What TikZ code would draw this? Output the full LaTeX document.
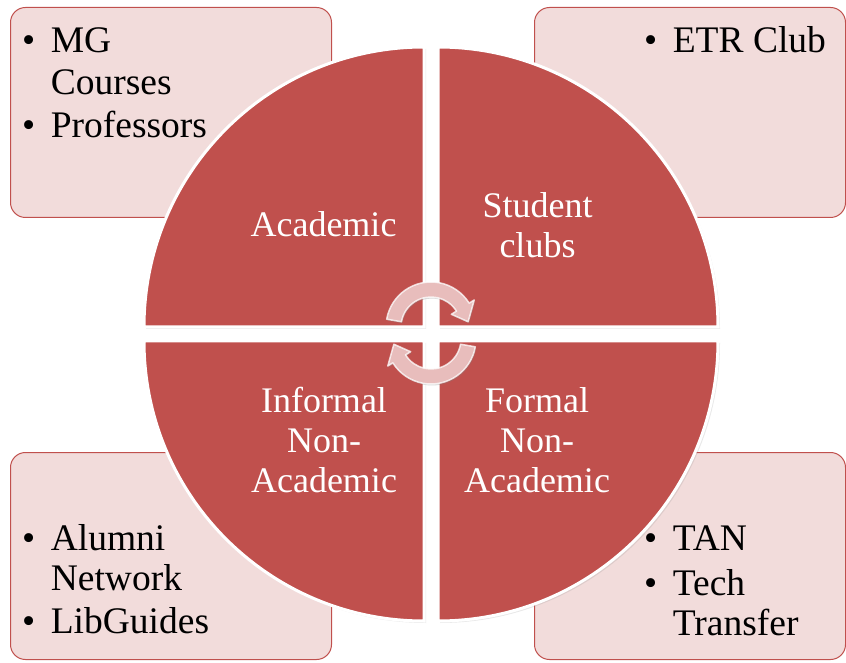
\documentclass[tikz,border=0pt]{standalone}
\usepackage{fontspec}
\setmainfont{Liberation Serif}
\usetikzlibrary{calc,shadows}
\definecolor{quadred}{HTML}{C0504D}
\definecolor{boxfill}{HTML}{F2DCDB}
\definecolor{arrowfill}{HTML}{E8BDBC}
\tikzset{
  infobox/.style={draw=quadred, line width=1pt, fill=boxfill, rounded corners=15pt,
    inner sep=0pt, anchor=south west},
  quadrant/.style={fill=quadred, draw=white, line width=3pt,
    drop shadow={shadow xshift=2pt, shadow yshift=-2pt, opacity=0.18}},
  quadlabel/.style={text=white, font=\fontsize{36}{40}\selectfont, inner sep=0pt, anchor=base},
  listtext/.style={text=black, font=\fontsize{37.5}{41}\selectfont, inner sep=0pt, anchor=base west},
  cyclearrow/.style={fill=arrowfill, draw=white, draw opacity=0.75, line width=1.5pt,
    line join=round, drop shadow={shadow xshift=1pt, shadow yshift=-1.5pt, opacity=0.3}},
}
\begin{document}
\begin{tikzpicture}[x=1pt,y=1pt]
\useasboundingbox (0,0) rectangle (846,662);

% corner boxes holding the lists
\node[infobox, minimum width=321pt, minimum height=210pt] (tlbox) at (10,444) {};
\node[infobox, minimum width=311pt, minimum height=210pt] (trbox) at (534,444) {};
\node[infobox, minimum width=321pt, minimum height=207pt] (blbox) at (10,2) {};
\node[infobox, minimum width=311pt, minimum height=207pt] (brbox) at (534,2) {};

% four quarter discs
\coordinate (qtl) at (424,335);
\coordinate (qtr) at (438,335);
\coordinate (qbl) at (424,321);
\coordinate (qbr) at (438,321);
\path[quadrant] (qtl) -- ++(180:280) arc[start angle=180, end angle=90, radius=280] -- cycle;
\path[quadrant] (qtr) -- ++(90:280) arc[start angle=90, end angle=0, radius=280] -- cycle;
\path[quadrant] (qbl) -- ++(270:280) arc[start angle=270, end angle=180, radius=280] -- cycle;
\path[quadrant] (qbr) -- ++(0:280) arc[start angle=0, end angle=-90, radius=280] -- cycle;

% circular arrows in the middle
\coordinate (ca) at (431,335);
\coordinate (cb) at (431,323);
\path[cyclearrow] ($(ca)+(170:45)$) arc[start angle=170, end angle=32, radius=45]
  -- ($(ca)+(32:51)$) -- ($(ca)+(8:37.5)$) -- ($(ca)+(32:24)$) -- ($(ca)+(32:30)$)
  arc[start angle=32, end angle=170, radius=30] -- cycle;
\path[cyclearrow] ($(cb)+(-10:45)$) arc[start angle=-10, end angle=-148, radius=45]
  -- ($(cb)+(-148:51)$) -- ($(cb)+(-172:37.5)$) -- ($(cb)+(-148:24)$) -- ($(cb)+(-148:30)$)
  arc[start angle=-148, end angle=-10, radius=30] -- cycle;

% quadrant labels
\node[quadlabel] (academic) at (323.5,425) {Academic};
\node[quadlabel] (clubs) at (537.5,444) {\begin{tabular}[t]{@{}c@{}}Student\\clubs\end{tabular}};
\node[quadlabel] (informal) at (324,249) {\begin{tabular}[t]{@{}c@{}}Informal\\Non-\\Academic\end{tabular}};
\node[quadlabel] (formal) at (537,249) {\begin{tabular}[t]{@{}c@{}}Formal\\Non-\\Academic\end{tabular}};

% lists in the corner boxes
\node[listtext] (tllist) at (22,609)
  {\begin{tabular}[t]{@{}l@{\hspace{15.5pt}}l@{}}• & MG\\[1pt] & Courses\\[2pt] • & Professors\end{tabular}};
\node[listtext] (trlist) at (644,609)
  {\begin{tabular}[t]{@{}l@{\hspace{15.5pt}}l@{}}• & ETR Club\end{tabular}};
\node[listtext] (bllist) at (22,112)
  {\begin{tabular}[t]{@{}l@{\hspace{15.5pt}}l@{}}• & Alumni\\[-1pt] & Network\\[2pt] • & LibGuides\end{tabular}};
\node[listtext] (brlist) at (644,112)
  {\begin{tabular}[t]{@{}l@{\hspace{15.5pt}}l@{}}• & TAN\\[4pt] • & Tech\\[-1pt] & Transfer\end{tabular}};
\end{tikzpicture}
\end{document}
